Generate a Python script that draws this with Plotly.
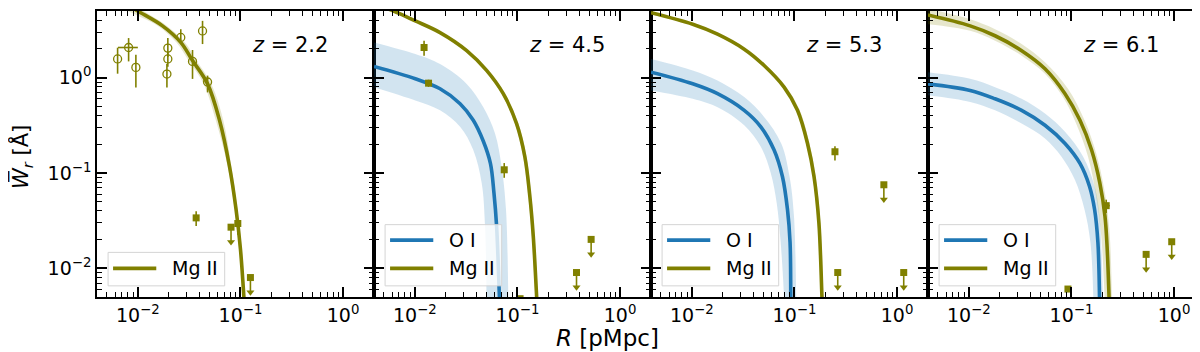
import numpy as np
import plotly.graph_objects as go
from plotly.subplots import make_subplots

OLIVE = "#808000"
BLUE = "#1f77b4"
OLIVE_BAND = "rgba(128,128,0,0.2)"
BLUE_BAND = "rgba(31,119,180,0.2)"
FONT = "DejaVu Sans"

redshifts = ["2.2", "4.5", "5.3", "6.1"]

# ---------------- model curves ----------------
# Mg II central curves
mg_x = [
    [0.0075, 0.00996, 0.0174, 0.0262, 0.0341, 0.0478, 0.0625, 0.0782, 0.0906, 0.100, 0.1077, 0.1085],
    [0.0040, 0.00619, 0.0101, 0.0176, 0.032, 0.050, 0.0727, 0.098, 0.118, 0.132, 0.1425, 0.1535, 0.1545],
    [0.0040, 0.0102, 0.0178, 0.0324, 0.0506, 0.0792, 0.107, 0.134, 0.155, 0.173, 0.185, 0.186],
    [0.0040, 0.0103, 0.018, 0.0327, 0.0552, 0.0865, 0.121, 0.157, 0.189, 0.212, 0.223, 0.232, 0.233],
]
mg_y = [
    [6.0, 5.0, 3.49, 2.34, 1.51, 0.86, 0.357, 0.117, 0.0413, 0.0158, 0.0052, 0.0045],
    [5.9, 5.0, 3.94, 2.97, 1.92, 1.19, 0.678, 0.330, 0.148, 0.0568, 0.0218, 0.0052, 0.0045],
    [4.8, 3.63, 2.86, 1.99, 1.34, 0.795, 0.454, 0.204, 0.0918, 0.030, 0.0052, 0.0045],
    [4.54, 3.49, 2.75, 1.92, 1.24, 0.678, 0.357, 0.174, 0.0784, 0.0352, 0.0158, 0.0052, 0.0045],
]
# Mg II band edges
mg_up_x = [
    [0.0085, 0.0113, 0.0192, 0.0288, 0.0372, 0.052, 0.068, 0.0815, 0.0935, 0.103, 0.1105, 0.111],
    [0.0040, 0.0064, 0.0105, 0.0183, 0.0333, 0.052, 0.0757, 0.102, 0.1225, 0.1365, 0.147, 0.158, 0.159],
    [0.0036, 0.0107, 0.0187, 0.034, 0.0535, 0.0835, 0.1125, 0.140, 0.161, 0.179, 0.191, 0.192],
    [0.0040, 0.0103, 0.018, 0.0327, 0.0552, 0.0925, 0.134, 0.174, 0.209, 0.234, 0.248, 0.249],
]
mg_up_y = [
    [6.0, 5.0, 3.49, 2.34, 1.51, 0.86, 0.357, 0.117, 0.0413, 0.0158, 0.0052, 0.0045],
    [6.2, 5.0, 3.94, 2.97, 1.92, 1.19, 0.678, 0.330, 0.148, 0.0568, 0.0218, 0.0052, 0.0045],
    [5.1, 3.63, 2.86, 1.99, 1.34, 0.795, 0.454, 0.204, 0.0918, 0.030, 0.0052, 0.0045],
    [5.3, 4.09, 3.22, 2.25, 1.45, 0.764, 0.357, 0.161, 0.0667, 0.0255, 0.0052, 0.0045],
]
mg_lo_x = [
    [0.0060, 0.0080, 0.0157, 0.0238, 0.0312, 0.0438, 0.0575, 0.0750, 0.0878, 0.0972, 0.1050, 0.1055],
    [0.0040, 0.0060, 0.0097, 0.0169, 0.0307, 0.048, 0.0698, 0.0945, 0.1137, 0.1275, 0.138, 0.149, 0.150],
    [0.0040, 0.0099, 0.0173, 0.0314, 0.049, 0.0768, 0.1037, 0.130, 0.1505, 0.168, 0.180, 0.181],
    [0.0040, 0.0103, 0.018, 0.0327, 0.0552, 0.0826, 0.111, 0.145, 0.174, 0.195, 0.210, 0.211],
]
mg_lo_y = [
    [6.0, 5.0, 3.49, 2.34, 1.51, 0.86, 0.357, 0.117, 0.0413, 0.0158, 0.0052, 0.0045],
    [5.6, 5.0, 3.94, 2.97, 1.92, 1.19, 0.678, 0.330, 0.148, 0.0568, 0.0218, 0.0052, 0.0045],
    [4.6, 3.63, 2.86, 1.99, 1.34, 0.795, 0.454, 0.204, 0.0918, 0.030, 0.0052, 0.0045],
    [3.63, 3.10, 2.44, 1.70, 1.10, 0.625, 0.330, 0.148, 0.0568, 0.0218, 0.0052, 0.0045],
]

# O I central curves (panels 2-4)
oi_x = [
    None,
    [0.0040, 0.0101, 0.0176, 0.0276, 0.0371, 0.0465, 0.0545, 0.059, 0.0626, 0.0666, 0.0670],
    [0.0040, 0.0102, 0.0178, 0.0324, 0.047, 0.0633, 0.0763, 0.0855, 0.0906, 0.092, 0.0922],
    [0.0040, 0.0103, 0.018, 0.0327, 0.0552, 0.0865, 0.121, 0.150, 0.168, 0.181, 0.1875, 0.1880],
]
oi_y = [
    None,
    [1.31, 0.973, 0.764, 0.533, 0.357, 0.215, 0.126, 0.0616, 0.0277, 0.0052, 0.0045],
    [1.14, 0.861, 0.678, 0.454, 0.305, 0.174, 0.0918, 0.0413, 0.0186, 0.0052, 0.0045],
    [0.861, 0.734, 0.60, 0.454, 0.317, 0.204, 0.126, 0.0722, 0.0413, 0.0186, 0.0052, 0.0045],
]
oi_up_x = [
    None,
    [0.0040, 0.0101, 0.0176, 0.032, 0.0465, 0.0604, 0.070, 0.0773, 0.0815, 0.0818],
    [0.0040, 0.0102, 0.0178, 0.0324, 0.0506, 0.0743, 0.0895, 0.0989, 0.104, 0.1045],
    [0.0040, 0.0103, 0.018, 0.0327, 0.0552, 0.0865, 0.130, 0.168, 0.1875, 0.202, 0.2025],
]
oi_up_y = [
    None,
    [2.34, 1.77, 1.39, 0.86, 0.49, 0.26, 0.117, 0.0413, 0.0052, 0.0045],
    [1.57, 1.19, 0.933, 0.625, 0.387, 0.204, 0.0918, 0.0352, 0.0052, 0.0045],
    [1.14, 0.973, 0.795, 0.60, 0.42, 0.27, 0.148, 0.0722, 0.0352, 0.0052, 0.0045],
]
oi_lo_x = [
    None,
    [0.0040, 0.0101, 0.0176, 0.0276, 0.0371, 0.0448, 0.0483, 0.050, 0.0502],
    [0.0040, 0.0102, 0.0178, 0.0324, 0.047, 0.0588, 0.0671, 0.0734, 0.079, 0.0792],
    [0.0040, 0.0103, 0.018, 0.0327, 0.0552, 0.080, 0.108, 0.134, 0.153, 0.163, 0.1632],
]
oi_lo_y = [
    None,
    [0.795, 0.577, 0.454, 0.305, 0.174, 0.0784, 0.0277, 0.0052, 0.0045],
    [0.734, 0.60, 0.49, 0.317, 0.188, 0.0995, 0.0485, 0.0186, 0.0052, 0.0045],
    [0.652, 0.555, 0.454, 0.330, 0.230, 0.148, 0.0847, 0.0413, 0.0186, 0.0052, 0.0045],
]

# ---------------- data points ----------------
# z=2.2 open circles (literature)
circ_x = [0.00635, 0.00813, 0.00957, 0.0192, 0.0196, 0.0196, 0.0262, 0.0341, 0.0427, 0.0478]
circ_y = [1.57, 2.07, 1.28, 1.09, 1.57, 2.04, 2.64, 1.48, 3.09, 0.90]
circ_ylo = [1.10, 1.48, 0.79, 0.79, 1.30, 1.65, 2.26, 0.97, 2.25, 0.70]
circ_yhi = [2.06, 2.60, 1.74, 1.39, 1.85, 2.60, 3.22, 1.95, 3.94, 1.05]
circ_xlo = [0.00635, 0.0064, 0.00957, 0.0192, 0.0196, 0.0196, 0.0262, 0.0341, 0.0427, 0.0478]
circ_xhi = [0.00635, 0.0100, 0.00957, 0.0192, 0.0196, 0.0196, 0.0262, 0.0341, 0.0427, 0.0478]

# filled squares: detections
det_x = [[0.0370, 0.0942], [0.0123, 0.0136, 0.0743], [0.248], [0.218, 0.0924]]
det_y = [[0.0338, 0.0295], [2.07, 0.875, 0.108], [0.167], [0.0454, 0.00606]]
det_ylo = [[0.0277, 0.0225], [1.70, 0.80, 0.089], [0.135], [0.038, 0.00606]]
det_yhi = [[0.0396, 0.0330], [2.43, 0.95, 0.127], [0.191], [0.0525, 0.00606]]
det_xlo = [[0.0370, 0.0942], [0.0123, 0.0136, 0.0743], [0.248], [0.200, 0.0924]]
det_xhi = [[0.0370, 0.0942], [0.0123, 0.0136, 0.0743], [0.248], [0.236, 0.0924]]

# filled squares: upper limits
ul_x = [[0.0809, 0.125], [0.106, 0.376, 0.522], [0.264, 0.743, 1.16], [0.534, 0.948]]
ul_y = [[0.0270, 0.0080], [0.0048, 0.00903, 0.0201], [0.00903, 0.0752, 0.00903], [0.0140, 0.0190]]
ARROW = 0.70  # arrow length as a fraction of the limit value

x_tickvals = [0.01, 0.1, 1]
x_ticktext = ["10<sup>−2</sup>", "10<sup>−1</sup>", "10<sup>0</sup>"]
y_tickvals = [0.01, 0.1, 1]
y_ticktext = ["10<sup>−2</sup>", "10<sup>−1</sup>", "10<sup>0</sup>"]
minor_x = [m * 10.0 ** e for e in (-3, -2, -1, 0) for m in range(2, 10)]
minor_y = [m * 10.0 ** e for e in (-3, -2, -1, 0) for m in range(2, 10)]

fig = make_subplots(rows=1, cols=4, shared_yaxes=False, horizontal_spacing=0)


def band(xu, yu, xl, yl, color, col):
    fig.add_trace(go.Scatter(
        x=list(xu) + list(xl)[::-1], y=list(yu) + list(yl)[::-1],
        fill="toself", fillcolor=color, mode="lines",
        line=dict(width=0, shape="spline", smoothing=1.0),
        hoverinfo="skip", showlegend=False), row=1, col=col)


for k in range(4):
    col = k + 1
    if oi_x[k] is not None:
        band(oi_up_x[k], oi_up_y[k], oi_lo_x[k], oi_lo_y[k], BLUE_BAND, col)
    band(mg_up_x[k], mg_up_y[k], mg_lo_x[k], mg_lo_y[k], OLIVE_BAND, col)
    if oi_x[k] is not None:
        fig.add_trace(go.Scatter(x=oi_x[k], y=oi_y[k], mode="lines",
                                 line=dict(color=BLUE, width=3.6, shape="spline", smoothing=1.0),
                                 showlegend=False), row=1, col=col)
    fig.add_trace(go.Scatter(x=mg_x[k], y=mg_y[k], mode="lines",
                             line=dict(color=OLIVE, width=3.6, shape="spline", smoothing=1.0),
                             showlegend=False), row=1, col=col)

    # detections
    dx = np.array(det_x[k]); dy = np.array(det_y[k])
    fig.add_trace(go.Scatter(
        x=dx, y=dy, mode="markers",
        marker=dict(symbol="square", size=7, color=OLIVE),
        error_y=dict(type="data", symmetric=False,
                     array=np.array(det_yhi[k]) - dy, arrayminus=dy - np.array(det_ylo[k]),
                     color=OLIVE, thickness=1.6, width=0),
        error_x=dict(type="data", symmetric=False,
                     array=np.array(det_xhi[k]) - dx, arrayminus=dx - np.array(det_xlo[k]),
                     color=OLIVE, thickness=1.6, width=0),
        showlegend=False), row=1, col=col)

    # upper limits
    ux = np.array(ul_x[k]); uy = np.array(ul_y[k])
    fig.add_trace(go.Scatter(
        x=ux, y=uy, mode="markers",
        marker=dict(symbol="square", size=7, color=OLIVE),
        error_y=dict(type="data", symmetric=False, array=np.zeros_like(uy),
                     arrayminus=uy * (1 - ARROW), color=OLIVE, thickness=1.6, width=0),
        showlegend=False), row=1, col=col)
    fig.add_trace(go.Scatter(
        x=ux, y=uy * ARROW, mode="markers",
        marker=dict(symbol="triangle-down", size=7, color=OLIVE),
        showlegend=False), row=1, col=col)

# open circles in first panel
cx = np.array(circ_x); cy = np.array(circ_y)
fig.add_trace(go.Scatter(
    x=cx, y=cy, mode="markers",
    marker=dict(symbol="circle-open", size=8, color=OLIVE, line=dict(width=1.3, color=OLIVE)),
    error_y=dict(type="data", symmetric=False, array=np.array(circ_yhi) - cy,
                 arrayminus=cy - np.array(circ_ylo), color=OLIVE, thickness=1.6, width=0),
    error_x=dict(type="data", symmetric=False, array=np.array(circ_xhi) - cx,
                 arrayminus=cx - np.array(circ_xlo), color=OLIVE, thickness=1.6, width=0),
    showlegend=False), row=1, col=1)

axis_common = dict(
    type="log", showline=True, linecolor="black", linewidth=1.6, mirror="allticks",
    ticks="inside", ticklen=10, tickwidth=1.6, tickcolor="black", showgrid=False, zeroline=False,
    tickfont=dict(family=FONT, size=19, color="black"),
    minor=dict(ticks="inside", ticklen=5, tickwidth=1.1, tickcolor="black", showgrid=False),
)
for k in range(4):
    sfx = "" if k == 0 else str(k + 1)
    fig.layout["xaxis" + sfx].update(
        **axis_common, range=[np.log10(0.004), np.log10(2.0)],
        tickvals=x_tickvals, ticktext=x_ticktext)
    fig.layout["xaxis" + sfx].minor.tickvals = minor_x
    fig.layout["yaxis" + sfx].update(
        **axis_common, range=[np.log10(0.005), np.log10(5.0)],
        tickvals=y_tickvals, ticktext=y_ticktext, showticklabels=(k == 0))
    fig.layout["yaxis" + sfx].minor.tickvals = minor_y

    xr = ("x" if k == 0 else "x" + str(k + 1)) + " domain"
    yr = ("y" if k == 0 else "y" + str(k + 1)) + " domain"
    # redshift label
    fig.add_annotation(x=0.842, y=0.882, xref=xr, yref=yr, xanchor="right", yanchor="middle",
                       text="<i>z</i> = " + redshifts[k], showarrow=False,
                       font=dict(family=FONT, size=21, color="black"))
    # legend box
    entries = [("Mg II", OLIVE)] if k == 0 else [("O I", BLUE), ("Mg II", OLIVE)]
    top = 0.156 if k == 0 else 0.253
    fig.add_shape(type="rect", xref=xr, yref=yr, x0=0.040, x1=0.461, y0=0.039, y1=top,
                  fillcolor="rgba(255,255,255,0.8)", line=dict(color="#d4d4d4", width=1),
                  layer="above")
    ys = [0.10] if k == 0 else [0.199, 0.10]
    for (lab, colr), yy in zip(entries, ys):
        fig.add_shape(type="line", xref=xr, yref=yr, x0=0.058, x1=0.214, y0=yy, y1=yy,
                      line=dict(color=colr, width=3.6), layer="above")
        fig.add_annotation(x=0.265, y=yy, xref=xr, yref=yr, xanchor="left", yanchor="middle",
                           text=lab, showarrow=False,
                           font=dict(family=FONT, size=19, color="black"))

fig.add_annotation(x=0.4604, y=-0.142, xref="paper", yref="paper", xanchor="center",
                   yanchor="middle", text="<i>R</i> [pMpc]", showarrow=False,
                   font=dict(family=FONT, size=23, color="black"))
fig.add_annotation(x=-0.0685, y=0.49, xref="paper", yref="paper", xanchor="center",
                   yanchor="middle", text="<i>W̅</i><sub><i>r</i></sub> [Å]", textangle=-90,
                   showarrow=False, font=dict(family=FONT, size=21, color="black"))

fig.update_layout(
    width=1200, height=352, margin=dict(l=89, r=1, t=1, b=63),
    paper_bgcolor="white", plot_bgcolor="white", showlegend=False,
)
fig.write_html("out.html")
